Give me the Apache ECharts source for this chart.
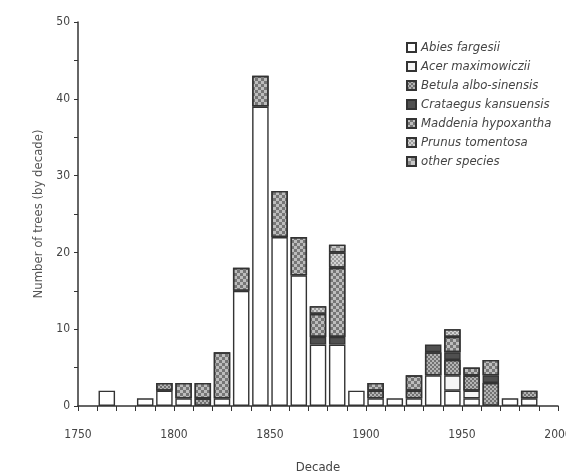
<!DOCTYPE html>
<html>
<head>
<meta charset="utf-8">
<script src="https://cdn.jsdelivr.net/npm/echarts@6/dist/echarts.min.js"></script>
<style>
  html, body { margin: 0; padding: 0; background: #fff; }
  #chart { width: 566px; height: 476px; }
</style>
</head>
<body>
<div id="chart"></div>
<script>
// decades (start year) and trees per species
var decades = ['1750','1760','1770','1780','1790','1800','1810','1820','1830','1840','1850','1860','1870',
               '1880','1890','1900','1910','1920','1930','1940','1950','1960','1970','1980','1990'];
var abies     = [0,2,0,1,2,1,0,1,15,39,22,17,8,8,2,1,1,1,4,2,1,0,1,1,0];
var acer      = [0,0,0,0,0,0,0,0,0,0,0,0,0,0,0,0,0,0,0,2,1,0,0,0,0];
var betula    = [0,0,0,0,1,0,1,0,0,0,0,0,0,0,0,1,0,1,3,2,2,3,0,1,0];
var crataegus = [0,0,0,0,0,0,0,0,0,0,0,0,1,1,0,0,0,0,1,1,0,1,0,0,0];
var maddenia  = [0,0,0,0,0,2,2,6,3,4,6,5,3,9,0,1,0,2,0,2,1,2,0,0,0];
var prunus    = [0,0,0,0,0,0,0,0,0,0,0,0,1,2,0,0,0,0,0,1,0,0,0,0,0];
var other     = [0,0,0,0,0,0,0,0,0,0,0,0,0,1,0,0,0,0,0,0,0,0,0,0,0];
var xTicks = [1750, 2000, 50];
var yTicks = [0, 50, 10];

var myChart = echarts.init(document.getElementById('chart'));

function checker(c, s) {
    return {
        symbol: 'rect', symbolSize: 1, color: c,
        dashArrayX: [[s, s], [0, s, s, 0]],
        dashArrayY: [s, 0]
    };
}

var specs = [
    {name: 'Abies fargesii', data: abies, color: '#ffffff'},
    {name: 'Acer maximowiczii', data: acer, color: '#f4f4f4'},
    {name: 'Betula albo-sinensis', data: betula, color: '#b4b4b4', decal: checker('rgba(60,60,60,0.55)', 2)},
    {name: 'Crataegus kansuensis', data: crataegus, color: '#505050'},
    {name: 'Maddenia hypoxantha', data: maddenia, color: '#bdbdbd', decal: checker('rgba(70,70,70,0.6)', 3)},
    {name: 'Prunus tomentosa', data: prunus, color: '#d2d2d2', decal: checker('rgba(90,90,90,0.45)', 2)},
    {name: 'other species', data: other, color: '#c8c8c8', decal: checker('rgba(80,80,80,0.5)', 4)}
];

var series = specs.map(function (s) {
    var style = {
        color: s.color,
        borderColor: '#333',
        borderWidth: 1.4
    };
    if (s.decal) style.decal = s.decal;
    return {
        name: s.name,
        type: 'bar',
        stack: 'trees',
        xAxisIndex: 1,
        barWidth: '86%',
        data: s.data.map(function (v) { return v === 0 ? null : v; }),
        itemStyle: style
    };
});

var font = 'DejaVu Sans Condensed, Liberation Sans, sans-serif';

var option = {
    animation: false,
    grid: {left: 78, right: 8, top: 22, bottom: 70, outerBoundsMode: 'none', containLabel: false},
    legend: {
        orient: 'vertical',
        left: 401,
        top: 36,
        itemWidth: 9,
        itemHeight: 9,
        itemGap: 6,
        icon: 'rect',
        textStyle: {fontFamily: font, fontStyle: 'italic', fontSize: 13, color: '#444'},
        data: specs.map(function (s) { return s.name; })
    },
    xAxis: [
        {
            type: 'value',
            min: xTicks[0], max: xTicks[1], interval: xTicks[2],
            name: 'Decade',
            nameLocation: 'middle',
            nameGap: 55,
            nameTextStyle: {fontFamily: font, fontSize: 13, color: '#444'},
            axisLine: {lineStyle: {color: '#333', width: 1.5}},
            axisTick: {show: true, length: 5, lineStyle: {color: '#333'}},
            minorTick: {show: true, splitNumber: 5, length: 5, lineStyle: {color: '#333'}},
            axisLabel: {margin: 23, fontFamily: font, fontSize: 12, color: '#444',
                formatter: function (v) { return String(v); }},
            splitLine: {show: false}
        },
        {
            type: 'category',
            data: decades,
            show: false,
            boundaryGap: true
        }
    ],
    yAxis: {
        type: 'value',
        min: yTicks[0], max: yTicks[1], interval: yTicks[2],
        name: 'Number of trees (by decade)',
        nameLocation: 'middle',
        nameGap: 31,
        nameTextStyle: {fontFamily: font, fontSize: 13, color: '#555'},
        axisLine: {show: true, lineStyle: {color: '#333', width: 1.5}},
        axisTick: {show: true, length: 4, lineStyle: {color: '#333'}},
        minorTick: {show: true, splitNumber: 2, length: 4, lineStyle: {color: '#333'}},
        axisLabel: {margin: 8, fontFamily: font, fontSize: 12, color: '#444'},
        splitLine: {show: false}
    },
    series: series
};
myChart.setOption(option);
</script>
</body>
</html>
